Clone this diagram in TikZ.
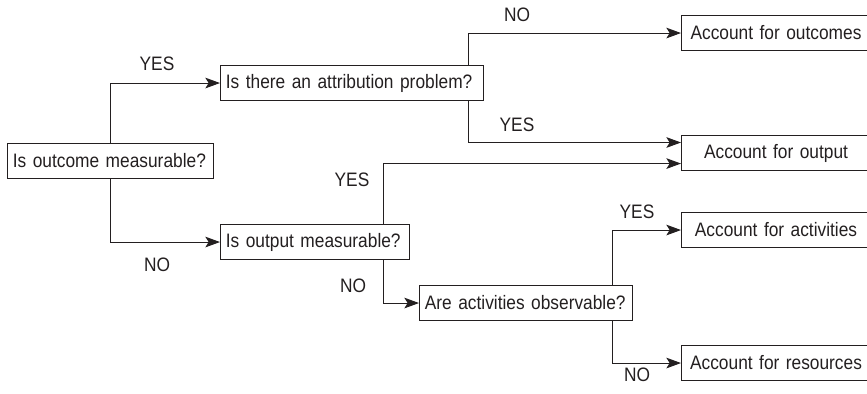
\documentclass[tikz,border=0pt]{standalone}
\usepackage{fontspec}
\setmainfont{Liberation Sans}[FakeStretch=0.89]
\usetikzlibrary{arrows.meta}
\definecolor{inkc}{HTML}{231F20}
\begin{document}
\begin{tikzpicture}[x=0.75pt,y=-0.75pt,
  every node/.style={text=inkc},
  txt/.style={font=\fontsize{14.6}{17}\selectfont},
  box/.style={txt, draw=inkc, line width=0.8pt, rectangle, anchor=north west,
    minimum height=26.25pt, inner xsep=4pt, inner ysep=0pt, align=left},
  result/.style={box, align=center, text width=133.75pt},
  lbl/.style={txt, inner sep=0pt},
  arr/.style={draw=inkc, line width=0.8pt, -{Stealth[length=11pt,width=8pt,inset=2.5pt]}},
]
\useasboundingbox (0,0) rectangle (867,393);
\clip (0,0) rectangle (867,393);

% question boxes
\node[box, text width=146.5pt]  (q1) at (7,143)   {Is outcome measurable?};
\node[box, text width=189.25pt] (q2) at (220,65)  {Is there an attribution problem?};
\node[box, text width=133.75pt] (q3) at (220,224) {Is output measurable?};
\node[box, text width=151.75pt] (q4) at (419,285) {Are activities observable?};

% outcome boxes (run past the right edge)
\node[result] (r1) at (681,15)  {Account for outcomes};
\node[result] (r2) at (681,135) {Account for output};
\node[result] (r3) at (681,212) {Account for activities};
\node[result] (r4) at (681,345) {Account for resources};

% connectors
\draw[arr] (q1.north) |- (q2.west);
\draw[arr] (q1.south) |- (q3.west);
\draw[arr] ([xshift=-12pt]q2.north east) |- (r1.west);
\draw[arr] ([xshift=-12pt]q2.south east) |- ([yshift=7.9pt]r2.west);
\draw[arr] ([xshift=-20.25pt]q3.north east) |- ([yshift=-7.9pt]r2.west);
\draw[arr] ([xshift=-20.25pt]q3.south east) |- (q4.west);
\draw[arr] ([xshift=-15.75pt]q4.north east) |- (r3.west);
\draw[arr] ([xshift=-15.75pt]q4.south east) |- (r4.west);

% branch labels
\node[lbl] (y1) at (157,64)  {YES};
\node[lbl] (n1) at (517,15)  {NO};
\node[lbl] (y2) at (517,125) {YES};
\node[lbl] (y3) at (352,180) {YES};
\node[lbl] (n2) at (157,265) {NO};
\node[lbl] (n3) at (353,286) {NO};
\node[lbl] (y4) at (637,212) {YES};
\node[lbl] (n4) at (637,375) {NO};
\end{tikzpicture}
\end{document}
